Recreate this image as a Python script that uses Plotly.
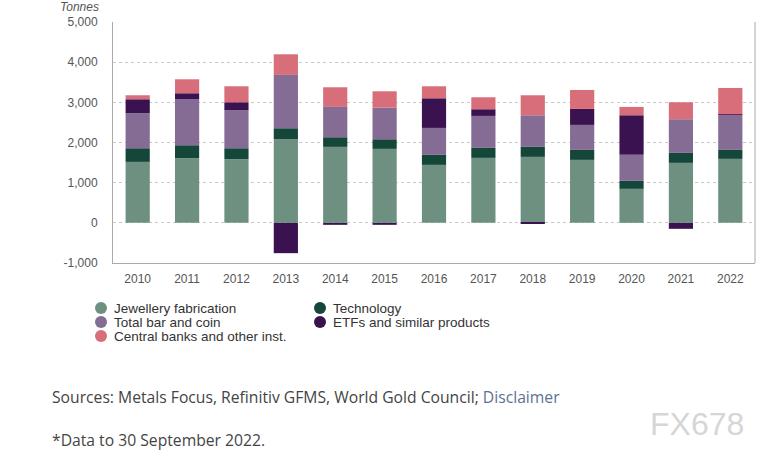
import plotly.graph_objects as go

years = ["2010", "2011", "2012", "2013", "2014", "2015", "2016", "2017", "2018", "2019", "2020", "2021", "2022"]
jewellery = [1517, 1609, 1584, 2081, 1891, 1841, 1443, 1617, 1642, 1567, 846, 1493, 1592]
technology = [340, 323, 273, 274, 240, 240, 249, 249, 249, 249, 199, 248, 224]
bar_coin = [871, 1144, 946, 1327, 755, 788, 671, 796, 787, 622, 647, 838, 871]
etfs = [348, 150, 199, -755, -50, -50, 738, 166, -17, 398, 986, -149, 16]
central_banks = [100, 348, 398, 514, 489, 406, 299, 298, 498, 472, 208, 423, 655]
y_tick_vals = [-1000, 0, 1000, 2000, 3000, 4000, 5000]
y_tick_text = ["-1,000", "0", "1,000", "2,000", "3,000", "4,000", "5,000"]

names = ["Jewellery fabrication", "Technology", "Total bar and coin",
         "ETFs and similar products", "Central banks and other inst."]
colors = ["#6d9080", "#15463a", "#846c94", "#3a1250", "#d86e79"]
series = [jewellery, technology, bar_coin, etfs, central_banks]

fig = go.Figure()
for n, c, s in zip(names, colors, series):
    fig.add_trace(go.Bar(x=years, y=s, name=n, marker=dict(color=c, line=dict(width=0)),
                         showlegend=False))

font_axis = dict(family="Liberation Sans, Arial", size=12, color="#555555")
fig.update_layout(
    width=776, height=459,
    barmode="relative", bargap=0.51,
    plot_bgcolor="white", paper_bgcolor="white",
    margin=dict(l=113, r=21, t=22, b=196),
    xaxis=dict(showline=True, linecolor="#aaaaaa", linewidth=1, showgrid=False,
               ticks="", tickfont=font_axis, ticklabelstandoff=5),
    yaxis=dict(range=[-1000, 5000], tickmode="array", tickvals=y_tick_vals, ticktext=y_tick_text,
               showline=True, linecolor="#aaaaaa", linewidth=1,
               showgrid=True, gridcolor="#c8c8c8", griddash="dot", gridwidth=1,
               zeroline=False, ticks="", tickfont=font_axis, ticklabelstandoff=12),
)
# right border of plot area
fig.add_shape(type="line", xref="paper", yref="paper", x0=1, x1=1, y0=0, y1=1,
              line=dict(color="#aaaaaa", width=1))

fig.add_annotation(text="<i>Tonnes</i>", xref="paper", yref="paper", x=0, y=1,
                   xshift=-12, yshift=6, xanchor="right", yanchor="bottom", showarrow=False,
                   font=dict(family="Liberation Sans, Arial", size=12, color="#555555"))

# manual legend (two columns); positions given in page pixels
PL, PR, PT, PB = 113, 755, 22, 263
PW, PH = PR - PL, PB - PT
leg_pos = [(101, 308), (320, 308), (101, 322), (320, 322), (101, 336)]
for (px, py), n, c in zip(leg_pos, names, colors):
    fig.add_shape(type="circle", xref="paper", yref="paper",
                  x0=(px - PL - 6) / PW, x1=(px - PL + 6) / PW,
                  y0=(PB - (py + 6)) / PH, y1=(PB - (py - 6)) / PH,
                  fillcolor=c, line=dict(width=0))
    fig.add_annotation(text=n, xref="paper", yref="paper",
                       x=(px - PL + 11) / PW, y=(PB - py) / PH,
                       xanchor="left", yanchor="middle", showarrow=False,
                       font=dict(family="Liberation Sans, Arial", size=13.5, color="#333333"))

fig.add_annotation(text="Sources: Metals Focus, Refinitiv GFMS, World Gold Council; <span style='color:#5b7191'>Disclaimer</span>",
                   xref="paper", yref="paper", x=(50 - PL) / PW, y=(PB - 397) / PH,
                   xanchor="left", yanchor="middle", showarrow=False,
                   font=dict(family="Open Sans", size=15.7, color="#444444"))
fig.add_annotation(text="*Data to 30 September 2022.",
                   xref="paper", yref="paper", x=(50 - PL) / PW, y=(PB - 440) / PH,
                   xanchor="left", yanchor="middle", showarrow=False,
                   font=dict(family="Open Sans", size=15.7, color="#444444"))
fig.add_annotation(text="FX678",
                   xref="paper", yref="paper", x=(697 - PL) / PW, y=(PB - 424) / PH,
                   xanchor="center", yanchor="middle", showarrow=False,
                   font=dict(family="Liberation Sans, Arial", size=32, color="#d6d6d6"))

fig.write_html("out.html", config={"displayModeBar": False},
               post_script="document.body.style.margin='0';")
